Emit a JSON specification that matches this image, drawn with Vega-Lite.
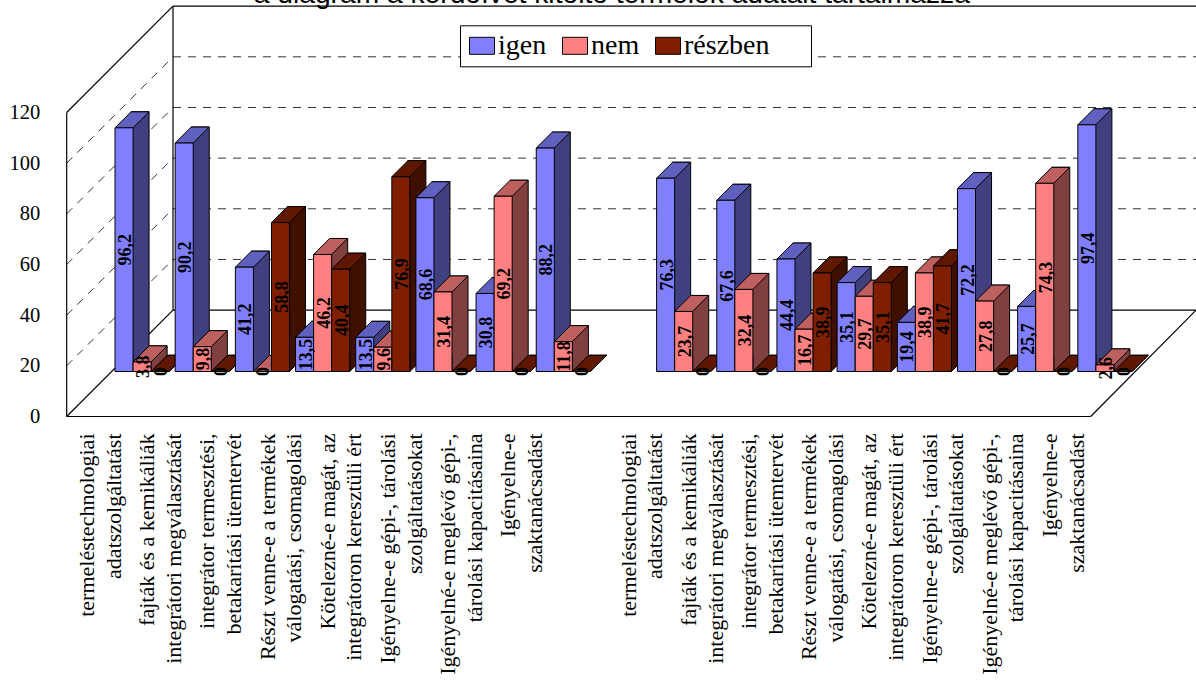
{
"$schema":"https://vega.github.io/schema/vega-lite/v6.json",
"width":1196,"height":416.5,"autosize":"none","padding":{"left":0,"top":0,"right":0,"bottom":263.5},"background":"white",
"config":{"view":{"stroke":null},"locale":{"number":{"decimal":",","thousands":" ","grouping":[3],"currency":["",""]}}},
"datasets":{
"bars":[
{"k":"A1","s":"igen","v":96.2},{"k":"A1","s":"nem","v":3.8},{"k":"A1","s":"részben","v":0},
{"k":"A2","s":"igen","v":90.2},{"k":"A2","s":"nem","v":9.8},{"k":"A2","s":"részben","v":0},
{"k":"A3","s":"igen","v":41.2},{"k":"A3","s":"nem","v":0},{"k":"A3","s":"részben","v":58.8},
{"k":"A4","s":"igen","v":13.5},{"k":"A4","s":"nem","v":46.2},{"k":"A4","s":"részben","v":40.4},
{"k":"A5","s":"igen","v":13.5},{"k":"A5","s":"nem","v":9.6},{"k":"A5","s":"részben","v":76.9},
{"k":"A6","s":"igen","v":68.6},{"k":"A6","s":"nem","v":31.4},{"k":"A6","s":"részben","v":0},
{"k":"A7","s":"igen","v":30.8},{"k":"A7","s":"nem","v":69.2},{"k":"A7","s":"részben","v":0},
{"k":"A8","s":"igen","v":88.2},{"k":"A8","s":"nem","v":11.8},{"k":"A8","s":"részben","v":0},
{"k":"B1","s":"igen","v":76.3},{"k":"B1","s":"nem","v":23.7},{"k":"B1","s":"részben","v":0},
{"k":"B2","s":"igen","v":67.6},{"k":"B2","s":"nem","v":32.4},{"k":"B2","s":"részben","v":0},
{"k":"B3","s":"igen","v":44.4},{"k":"B3","s":"nem","v":16.7},{"k":"B3","s":"részben","v":38.9},
{"k":"B4","s":"igen","v":35.1},{"k":"B4","s":"nem","v":29.7},{"k":"B4","s":"részben","v":35.1},
{"k":"B5","s":"igen","v":19.4},{"k":"B5","s":"nem","v":38.9},{"k":"B5","s":"részben","v":41.7},
{"k":"B6","s":"igen","v":72.2},{"k":"B6","s":"nem","v":27.8},{"k":"B6","s":"részben","v":0},
{"k":"B7","s":"igen","v":25.7},{"k":"B7","s":"nem","v":74.3},{"k":"B7","s":"részben","v":0},
{"k":"B8","s":"igen","v":97.4},{"k":"B8","s":"nem","v":2.6},{"k":"B8","s":"részben","v":0}
],
"solid":[
{"l":"a","x":0,"y":0},{"l":"a","x":17,"y":0},
{"l":"b","x":17,"y":0},{"l":"b","x":18.75,"y":42},
{"l":"c","x":0,"y":0},{"l":"c","x":1.765,"y":42},
{"l":"d","x":1.765,"y":42},{"l":"d","x":18.75,"y":42},
{"l":"e","x":0,"y":0},{"l":"e","x":0,"y":120},
{"l":"f","x":1.765,"y":42},{"l":"f","x":1.765,"y":162},
{"l":"g","x":0,"y":120},{"l":"g","x":1.765,"y":162},
{"l":"h","x":1.765,"y":162},{"l":"h","x":18.75,"y":162}
],
"dashed":[
{"l":"b20","x":1.765,"y":62},{"l":"b20","x":18.75,"y":62},
{"l":"b40","x":1.765,"y":82},{"l":"b40","x":18.75,"y":82},
{"l":"b60","x":1.765,"y":102},{"l":"b60","x":18.75,"y":102},
{"l":"b80","x":1.765,"y":122},{"l":"b80","x":18.75,"y":122},
{"l":"b100","x":1.765,"y":142},{"l":"b100","x":18.75,"y":142},
{"l":"s20","x":0,"y":20},{"l":"s20","x":1.765,"y":62},
{"l":"s40","x":0,"y":40},{"l":"s40","x":1.765,"y":82},
{"l":"s60","x":0,"y":60},{"l":"s60","x":1.765,"y":102},
{"l":"s80","x":0,"y":80},{"l":"s80","x":1.765,"y":122},
{"l":"s100","x":0,"y":100},{"l":"s100","x":1.765,"y":142}
]
},
"resolve":{"scale":{"x":"independent"}},
"layer":[
{
"encoding":{
"x":{"field":"x","type":"quantitative","scale":{"domain":[0,18.75],"range":[66.7,1196.1],"nice":false,"zero":false},"axis":null},
"y":{"field":"y","type":"quantitative","scale":{"domain":[0,164.43],"nice":false},
"axis":{"values":[0,20,40,60,80,100,120],"title":null,"grid":false,"domain":false,"ticks":false,"offset":-66.7,"labelFont":"Liberation Serif","labelFontSize":20.5,"labelColor":"#000000","labelPadding":27}}
},
"layer":[
{"data":{"name":"dashed"},"mark":{"type":"line","stroke":"#333333","strokeWidth":1,"strokeDash":[8,7],"clip":false},"encoding":{"detail":{"field":"l"},"order":{"value":null}}},
{"data":{"name":"solid"},"mark":{"type":"line","stroke":"#000000","strokeWidth":1.2,"clip":false},"encoding":{"detail":{"field":"l"},"order":{"value":null}}},
{"data":{"values":[{"x":9.05,"y":163.4,"t":"a diagram a kérdőívet kitöltő termelők adatait tartalmazza"}]},"mark":{"type":"text","font":"Liberation Sans","fontSize":28.2,"align":"center","baseline":"alphabetic","color":"#000000"},"encoding":{"text":{"field":"t"}}}
]
},
{
"data":{"name":"bars"},
"encoding":{
"x":{"field":"k","type":"nominal","scale":{"type":"band","domain":["A1","A2","A3","A4","A5","A6","A7","A8","X","B1","B2","B3","B4","B5","B6","B7","B8"],"range":[128,1151],"paddingInner":0,"paddingOuter":0},"axis":null},
"xOffset":{"field":"s","type":"nominal","scale":{"type":"band","domain":["igen","nem","részben"],"range":[0,60.2],"paddingInner":0,"paddingOuter":0.1667}},
"y":{"field":"v","type":"quantitative"},
"fill":{"condition":[{"test":"datum.s==='igen'","value":"#40407f"},{"test":"datum.s==='nem'","value":"#804040"}],"value":"#3f0f00"}
},
"layer":[
{"mark":{"type":"bar","stroke":"#000000","strokeWidth":1,"yOffset":-61,"y2Offset":-61},"encoding":{"y2":{"datum":0}}}
]
},
{
"data":{"name":"bars"},
"encoding":{
"x":{"field":"k","type":"nominal","scale":{"type":"band","domain":["A1","A2","A3","A4","A5","A6","A7","A8","X","B1","B2","B3","B4","B5","B6","B7","B8"],"range":[112,1135],"paddingInner":0,"paddingOuter":0},
"axis":{"values":["A1","A2","A3","A4","A5","A6","A7","A8","B1","B2","B3","B4","B5","B6","B7","B8"],"title":null,"domain":false,"ticks":false,"labelAngle":270,"labelAlign":"right","labelBaseline":"middle","labelFont":"Liberation Serif","labelFontSize":22,"labelColor":"#000000","labelPadding":16.5,"labelOffset":-55,"labelLineHeight":26.7,"labelOverlap":false,"labelLimit":0,
"labelExpr":"({'1':['termeléstechnologiai\u00a0','adatszolgáltatást'],'2':['fajták és a kemikáliák\u00a0','integrátori megválasztását'],'3':['integrátor termesztési,\u00a0','betakarítási ütemtervét'],'4':['Részt venne-e a termékek\u00a0','válogatási, csomagolási'],'5':['Kötelezné-e magát, az\u00a0','integrátoron keresztüli ért'],'6':['Igényelne-e gépi-, tárolási\u00a0','szolgáltatásokat'],'7':['Igényelné-e meglévő gépi-,\u00a0','tárolási kapacitásaina'],'8':['Igényelne-e\u00a0','szaktanácsadást']})[slice(datum.value,1)]"}},
"xOffset":{"field":"s","type":"nominal","scale":{"type":"band","domain":["igen","nem","részben"],"range":[0,60.2],"paddingInner":0,"paddingOuter":0.1667}},
"y":{"field":"v","type":"quantitative"}
},
"layer":[
{"mark":{"type":"point","filled":true,"opacity":1,"size":4,"stroke":"#000000","strokeWidth":1,"yOffset":-45,"shape":"M9.03,-17L9.03,0L25.03,-16L25.03,-17"},
"encoding":{"y":{"datum":0,"type":"quantitative"},"fill":{"condition":[{"test":"datum.s==='igen'","value":"#40407f"},{"test":"datum.s==='nem'","value":"#804040"}],"value":"#3f0f00"}}},
{"mark":{"type":"point","filled":true,"opacity":1,"size":4,"stroke":"#000000","strokeWidth":1,"yOffset":-45,"shape":"M-9.03,0L9.03,0L25.03,-16L7.03,-16Z"},
"encoding":{"fill":{"condition":[{"test":"datum.s==='igen'","value":"#6060bf"},{"test":"datum.s==='nem'","value":"#bf6060"}],"value":"#5f1700"}}},
{"mark":{"type":"bar","stroke":"#000000","strokeWidth":1,"yOffset":-45,"y2Offset":-45},
"encoding":{"y2":{"datum":0},
"fill":{"field":"s","type":"nominal","scale":{"domain":["igen","nem","részben"],"range":["#8080ff","#ff8080","#7f1f00"]},
"legend":{"title":"\u00a0","titleOrient":"right","titleFontSize":1,"titlePadding":35,"orient":"none","legendX":460,"legendY":25.3,"direction":"horizontal","columns":3,"fillColor":"#ffffff","strokeColor":"#000000","padding":6.5,"symbolOffset":1.5,"symbolType":"M-12.5,-8.5H12.5V8.5H-12.5Z","symbolSize":4,"symbolStrokeColor":"#000000","symbolStrokeWidth":1,"symbolOpacity":1,"labelFont":"Liberation Serif","labelFontSize":28,"labelColor":"#000000","labelOffset":2,"columnPadding":13,"labelLimit":0}}}},
{"transform":[{"calculate":"datum.v/2","as":"m"}],
"mark":{"type":"text","font":"Liberation Serif","fontSize":18,"fontWeight":"bold","angle":270,"align":"center","baseline":"middle","dy":2,"yOffset":-45,"color":"#000000"},
"encoding":{"y":{"field":"m","type":"quantitative"},"text":{"field":"v","type":"quantitative","format":".1~f"},"fill":{"value":"#000000"}}}
]
}
]
}
